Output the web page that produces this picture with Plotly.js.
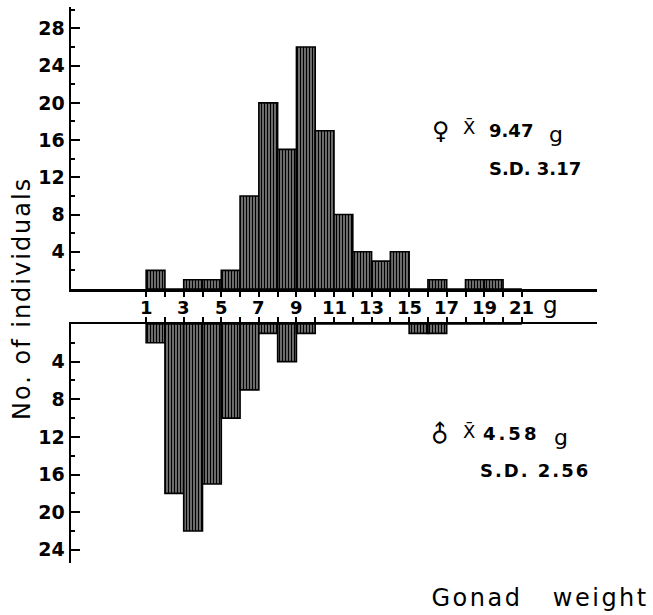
<!DOCTYPE html>
<html><head><meta charset="utf-8">
<script src="https://cdn.plot.ly/plotly-3.0.1.min.js"></script>
<style>
html,body{margin:0;padding:0;background:#fff;}
#chart{width:653px;height:615px;}
g.annotation[data-index="0"] text{letter-spacing:2px;}
g.annotation[data-index="1"] text{letter-spacing:2.5px;}
g.annotation[data-index="10"] text{letter-spacing:3px;}
g.annotation[data-index="12"] text{letter-spacing:2px;}
</style></head><body><div id="chart"></div>
<script>
// Gonad weight classes (left edge of 1 g bins)
const binStart = [1,2,3,4,5,6,7,8,9,10,11,12,13,14,15,16,17,18,19,20];
const femaleCounts = [2,0,1,1,2,10,20,15,26,17,8,4,3,4,0,1,0,1,1,0];
const maleCounts   = [2,18,22,17,10,7,1,4,1,0,0,0,0,0,1,1,0,0,0,0];
const xTickVals = [1,2,3,4,5,6,7,8,9,10,11,12,13,14,15,16,17,18,19,20,21];
const xTickText = ['1','','3','','5','','7','','9','','11','','13','','15','','17','','19','','21'];
const yTopTicks = [4,8,12,16,20,24,28];
const yBottomTicks = [4,8,12,16,20,24];
const femaleMean = '9.47', femaleSD = '3.17';
const maleMean = '4.58', maleSD = '2.56';

const W = 653, H = 615;
const L = 71, R = 597, T = 7, B = 563;
const px = x => (x - L) / (R - L);
const py = y => (B - y) / (B - T);

const pattern = {shape:'|', fgcolor:'#000', bgcolor:'#ffffff', size:3, solidity:0.72, fillmode:'replace'};

const traces = [
  {type:'bar', x:binStart, y:femaleCounts, offset:0, width:1, xaxis:'x', yaxis:'y',
   marker:{color:'#222', pattern:pattern, line:{color:'#000', width:1.6}}, hoverinfo:'skip'},
  {type:'bar', x:binStart, y:maleCounts, offset:0, width:1, xaxis:'x2', yaxis:'y2',
   marker:{color:'#222', pattern:pattern, line:{color:'#000', width:1.6}}, hoverinfo:'skip'}
];

const tickFont = {family:'DejaVu Sans', size:18, color:'#000', weight:'bold'};
const yTickFont = {family:'DejaVu Sans', size:19, color:'#000', weight:'bold'};
const topDomainStart = py(289), botDomainEnd = py(324);

const annotations = [
  {text:'No. of individuals', xref:'paper', yref:'paper', x:px(22), y:py(299), textangle:-90,
   showarrow:false, xanchor:'center', yanchor:'middle', font:{family:'DejaVu Sans', size:24, color:'#000'}},
  {text:'Gonad\u00a0\u00a0\u00a0weight', xref:'paper', yref:'paper', x:px(540), y:py(598),
   showarrow:false, xanchor:'center', yanchor:'middle', font:{family:'DejaVu Sans', size:24, color:'#000'}},
  {text:'g', xref:'paper', yref:'paper', x:px(550), y:py(305),
   showarrow:false, xanchor:'center', yanchor:'middle', font:{family:'DejaVu Sans', size:23, color:'#000'}},
  {text:'\u2640', xref:'paper', yref:'paper', x:px(441), y:py(131),
   showarrow:false, xanchor:'center', yanchor:'middle', font:{family:'DejaVu Sans', size:24, color:'#000', weight:'bold'}},
  {text:'X\u0304', xref:'paper', yref:'paper', x:px(469), y:py(128),
   showarrow:false, xanchor:'center', yanchor:'middle', font:{family:'DejaVu Sans', size:18, color:'#000'}},
  {text:femaleMean, xref:'paper', yref:'paper', x:px(487), y:py(131),
   showarrow:false, xanchor:'left', yanchor:'middle', font:{family:'DejaVu Sans', size:18, color:'#000', weight:'bold'}},
  {text:'g', xref:'paper', yref:'paper', x:px(556), y:py(134),
   showarrow:false, xanchor:'center', yanchor:'middle', font:{family:'DejaVu Sans', size:22, color:'#000'}},
  {text:'S.D. ' + femaleSD, xref:'paper', yref:'paper', x:px(487), y:py(168),
   showarrow:false, xanchor:'left', yanchor:'middle', font:{family:'DejaVu Sans', size:18, color:'#000', weight:'bold'}},
  {text:'\u2642', xref:'paper', yref:'paper', x:px(440), y:py(434), textangle:-45,
   showarrow:false, xanchor:'center', yanchor:'middle', font:{family:'DejaVu Sans', size:24, color:'#000', weight:'bold'}},
  {text:'X\u0304', xref:'paper', yref:'paper', x:px(469), y:py(431),
   showarrow:false, xanchor:'center', yanchor:'middle', font:{family:'DejaVu Sans', size:18, color:'#000'}},
  {text:maleMean, xref:'paper', yref:'paper', x:px(487), y:py(433),
   showarrow:false, xanchor:'left', yanchor:'middle', font:{family:'DejaVu Sans', size:18, color:'#000', weight:'bold'}},
  {text:'g', xref:'paper', yref:'paper', x:px(561), y:py(437),
   showarrow:false, xanchor:'center', yanchor:'middle', font:{family:'DejaVu Sans', size:22, color:'#000'}},
  {text:'S.D. ' + maleSD, xref:'paper', yref:'paper', x:px(487), y:py(470),
   showarrow:false, xanchor:'left', yanchor:'middle', font:{family:'DejaVu Sans', size:18, color:'#000', weight:'bold'}}
];
// x tick labels placed in the band between the two baselines
xTickVals.forEach((v, i) => {
  if (xTickText[i]) annotations.push({text:xTickText[i], xref:'x', yref:'paper', x:v, y:py(307),
    showarrow:false, xanchor:'center', yanchor:'middle', font:tickFont});
});

const layout = {
  width:W, height:H,
  margin:{l:L, r:W-R, t:T, b:H-B, pad:0},
  paper_bgcolor:'#fff', plot_bgcolor:'rgba(0,0,0,0)',
  showlegend:false, bargap:0,
  font:{family:'DejaVu Sans', color:'#000'},
  xaxis:{domain:[0,1], range:[-3,25], anchor:'y', side:'bottom',
    showline:true, linecolor:'#000', linewidth:2.5, showgrid:false, zeroline:false,
    tickmode:'array', tickvals:xTickVals, showticklabels:false,
    ticks:'outside', ticklen:5, tickwidth:2, tickcolor:'#000'},
  xaxis2:{domain:[0,1], range:[-3,25], anchor:'y2', side:'top', matches:'x',
    showline:true, linecolor:'#000', linewidth:2.5, showgrid:false, zeroline:false,
    tickmode:'array', tickvals:xTickVals, showticklabels:false,
    ticks:'outside', ticklen:5, tickwidth:2, tickcolor:'#000'},
  yaxis:{domain:[topDomainStart,1], range:[0,30.3], anchor:'x',
    showline:true, linecolor:'#000', linewidth:2.5, showgrid:false, zeroline:false,
    tickmode:'array', tickvals:yTopTicks, ticks:'inside', ticklen:9, tickwidth:2, tickcolor:'#000',
    tickfont:yTickFont,
    minor:{tickmode:'linear', tick0:0, dtick:2, ticks:'inside', ticklen:4, tickwidth:2, tickcolor:'#000', showgrid:false}},
  yaxis2:{domain:[0,botDomainEnd], range:[25.4,0], anchor:'x2',
    showline:true, linecolor:'#000', linewidth:2.5, showgrid:false, zeroline:false,
    tickmode:'array', tickvals:yBottomTicks, ticks:'inside', ticklen:9, tickwidth:2, tickcolor:'#000',
    tickfont:yTickFont,
    minor:{tickmode:'linear', tick0:0, dtick:2, ticks:'inside', ticklen:4, tickwidth:2, tickcolor:'#000', showgrid:false}},
  annotations:annotations
};

Plotly.newPlot('chart', traces, layout, {staticPlot:true, displayModeBar:false});
</script></body></html>
